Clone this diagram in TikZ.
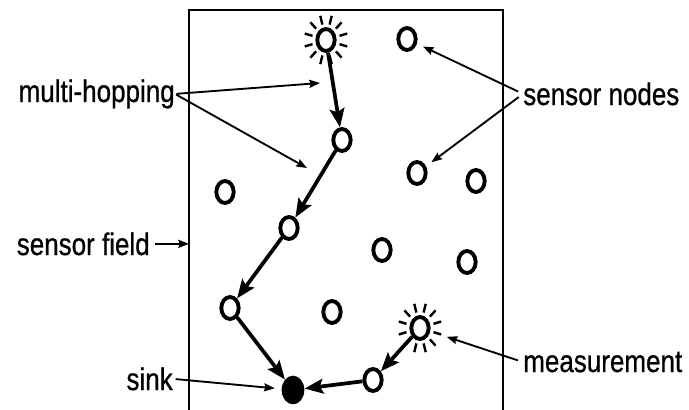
\documentclass[tikz,border=0pt]{standalone}
\usepackage{fontspec}
\setmainfont{Liberation Sans}
\newfontfamily\tagfont{Liberation Sans}[FakeBold=0.8]
\usetikzlibrary{arrows.meta,shapes.geometric}
\tikzset{
  sensor/.style={ellipse,draw,fill=white,line width=2.9pt,minimum width=13pt,minimum height=16.5pt,inner sep=0pt},
  sinknode/.style={ellipse,fill=black,minimum width=17pt,minimum height=21.5pt,inner sep=0pt},
  hop/.style={line width=2.8pt,-{Stealth[length=14pt,width=11pt,inset=2.5pt]}},
  lbl/.style={line width=1.4pt,-{Stealth[length=8pt,width=6pt,inset=1pt]}},
  tag/.style={font=\tagfont\fontsize{19.5pt}{22pt}\selectfont,inner sep=0pt,yscale=1.2},
  ray/.style={line width=1.8pt}
}
\begin{document}
\begin{tikzpicture}[x=0.75pt,y=-0.75pt]
\useasboundingbox (0,0) rectangle (689,410);
% sensor field
\coordinate (fieldTL) at (189,10);
\coordinate (fieldTR) at (503,10);
\draw [line width=1.2pt] (189,412) -- (fieldTL) -- (fieldTR) -- (503,412);
% nodes in the field
\node [sensor] (sun1) at (326,40) {};
\node [sensor] (s1) at (407,39) {};
\node [sensor] (h1) at (342,140) {};
\node [sensor] (s2) at (225,192) {};
\node [sensor] (s3) at (417,173) {};
\node [sensor] (s4) at (476,181) {};
\node [sensor] (h2) at (289,228) {};
\node [sensor] (s5) at (382,250) {};
\node [sensor] (s6) at (467,262) {};
\node [sensor] (h3) at (230,308) {};
\node [sensor] (s7) at (332,312) {};
\node [sensor] (sun2) at (420,328) {};
\node [sensor] (h4) at (373,380) {};
\node [sinknode] (sink) at (293,390) {};
\foreach \c in {sun1,sun2}
  \foreach \a in {15,45,...,345}
    \draw [ray] (\c) ++(\a:14 and 16) -- ++(\a:8 and 9);
% hops
\draw [hop] (sun1) -- (h1);
\draw [hop] (h1) -- (h2);
\draw [hop] (h2) -- (h3);
\draw [hop] (h3) -- (sink);
\draw [hop] (sun2) -- (h4);
\draw [hop] (h4) -- (sink);
% labels
\node [tag,anchor=base east] (mh) at (175,102) {multi-hopping};
\node [tag,anchor=base east] (sf) at (150,255) {sensor field};
\node [tag,anchor=base east] (sk) at (173,390) {sink};
\node [tag,anchor=base west] (sn) at (523,105) {sensor nodes};
\node [tag,anchor=base west] (ms) at (523,372) {measurement};
\coordinate (hopA) at (320,83);
\coordinate (hopB) at (307,168);
\draw [lbl,shorten <=1pt] (mh.east) -- (hopA);
\draw [lbl,shorten <=1pt] (mh.east) -- (hopB);
\draw [lbl,shorten <=4pt] (sf.east) -- (sf.east -| fieldTL);
\draw [lbl,shorten <=2pt,shorten >=5pt] (sk.east) -- (sink);
\draw [lbl,shorten <=4pt,shorten >=5pt] (sn.west) -- (s1);
\draw [lbl,shorten <=4pt,shorten >=5pt] (sn.west) -- (s3);
\draw [lbl,shorten <=4pt,shorten >=13pt] (ms.west) -- (sun2);
\end{tikzpicture}
\end{document}
